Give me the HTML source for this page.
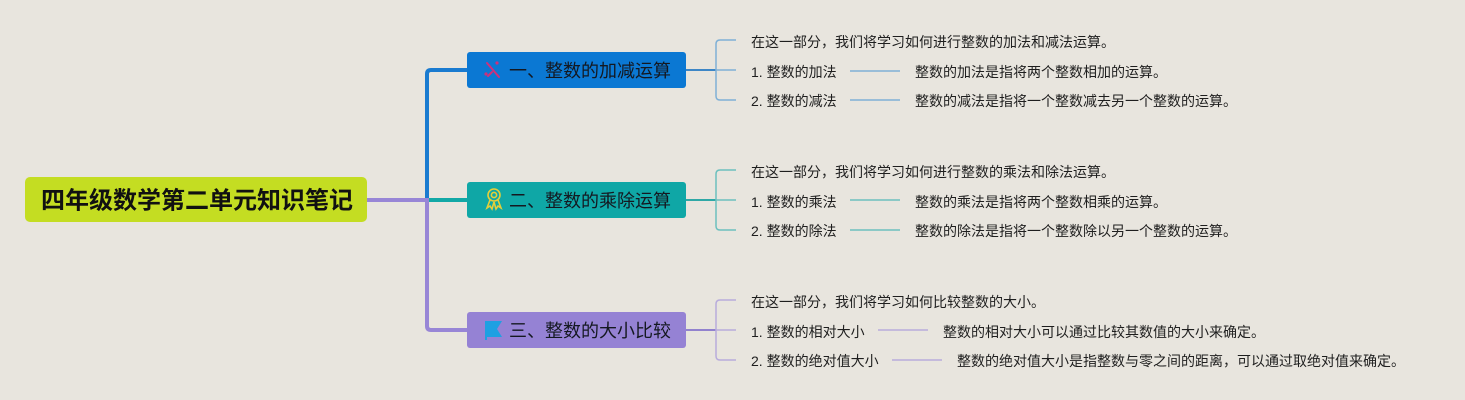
<!DOCTYPE html>
<html>
<head>
<meta charset="utf-8">
<style>
  html,body{margin:0;padding:0;background:#e8e5de;}
  svg{display:block;}
  text{font-family:"Liberation Sans","Noto Sans CJK SC",sans-serif;}
  .t{font-size:14px;fill:#1e1e1e;}
  .b{font-size:18px;fill:#141820;}
</style>
</head>
<body>
<svg width="1465" height="400" viewBox="0 0 1465 400" xmlns="http://www.w3.org/2000/svg">
  <rect x="0" y="0" width="1465" height="400" fill="#e8e5de"/>

  <!-- main connectors -->
  <path d="M427 200 V74 Q427 70 431 70 H470" fill="none" stroke="#1a7bd0" stroke-width="4"/>
  <path d="M427 200 H470" fill="none" stroke="#12a8a6" stroke-width="4"/>
  <path d="M365 200 H427 V326 Q427 330 431 330 H470" fill="none" stroke="#9886d6" stroke-width="4"/>

  <!-- root -->
  <rect x="25" y="177" width="342" height="45" rx="5" fill="#c4dd22"/>
  <text x="197" y="201" text-anchor="middle" dominant-baseline="central" font-size="24" font-weight="bold" fill="#111">四年级数学第二单元知识笔记</text>

  <!-- branch 1 -->
  <rect x="467" y="52" width="219" height="36" rx="3" fill="#0b78d3"/>
  <g stroke="#d0307a" stroke-width="2" stroke-linecap="round">
    <line x1="487" y1="63" x2="499" y2="77"/>
    <line x1="488" y1="76" x2="492" y2="72"/>
  </g>
  <circle cx="497" cy="63" r="1.6" fill="#d0307a"/>
  <circle cx="486" cy="74" r="1.6" fill="#d0307a"/>
  <text class="b" x="509" y="71" dominant-baseline="central">一、整数的加减运算</text>

  <path d="M686 70 H716" stroke="#3d86c6" stroke-width="2" fill="none"/>
  <path d="M736 40 H720 Q716 40 716 44 V96 Q716 100 720 100 H736 M716 70 H736" stroke="#7fb0d6" stroke-width="1.5" fill="none"/>
  <text class="t" x="751" y="42" dominant-baseline="central">在这一部分，我们将学习如何进行整数的加法和减法运算。</text>
  <text class="t" x="751" y="72" dominant-baseline="central">1. 整数的加法</text>
  <text class="t" x="751" y="101" dominant-baseline="central">2. 整数的减法</text>
  <path d="M850 71 H900 M850 100 H900" stroke="#7fb0d6" stroke-width="1.5" fill="none"/>
  <text class="t" x="915" y="72" dominant-baseline="central">整数的加法是指将两个整数相加的运算。</text>
  <text class="t" x="915" y="101" dominant-baseline="central">整数的减法是指将一个整数减去另一个整数的运算。</text>

  <!-- branch 2 -->
  <rect x="467" y="182" width="219" height="36" rx="3" fill="#0fa7a6"/>
  <g fill="none" stroke="#e5cf3a" stroke-width="1.6">
    <circle cx="494" cy="195" r="6"/>
    <circle cx="494" cy="195" r="2.6"/>
    <path d="M490 200 L487 208 L490 206 L492 209 L494 202"/>
    <path d="M498 200 L501 208 L498 206 L496 209 L494 202"/>
  </g>
  <text class="b" x="509" y="201" dominant-baseline="central">二、整数的乘除运算</text>

  <path d="M686 200 H716" stroke="#2fa8a6" stroke-width="2" fill="none"/>
  <path d="M736 170 H720 Q716 170 716 174 V226 Q716 230 720 230 H736 M716 200 H736" stroke="#6cc0be" stroke-width="1.5" fill="none"/>
  <text class="t" x="751" y="172" dominant-baseline="central">在这一部分，我们将学习如何进行整数的乘法和除法运算。</text>
  <text class="t" x="751" y="202" dominant-baseline="central">1. 整数的乘法</text>
  <text class="t" x="751" y="231" dominant-baseline="central">2. 整数的除法</text>
  <path d="M850 200 H900 M850 230 H900" stroke="#6cc0be" stroke-width="1.5" fill="none"/>
  <text class="t" x="915" y="202" dominant-baseline="central">整数的乘法是指将两个整数相乘的运算。</text>
  <text class="t" x="915" y="231" dominant-baseline="central">整数的除法是指将一个整数除以另一个整数的运算。</text>

  <!-- branch 3 -->
  <rect x="467" y="312" width="219" height="36" rx="3" fill="#9582d4"/>
  <path d="M485 321 H502 L497 329 L502 337 H487 V340 H485 Z" fill="#1ea0e2"/>
  <text class="b" x="509" y="331" dominant-baseline="central">三、整数的大小比较</text>

  <path d="M686 330 H716" stroke="#9282ce" stroke-width="2" fill="none"/>
  <path d="M736 300 H720 Q716 300 716 304 V356 Q716 360 720 360 H736 M716 330 H736" stroke="#b8acdc" stroke-width="1.5" fill="none"/>
  <text class="t" x="751" y="302" dominant-baseline="central">在这一部分，我们将学习如何比较整数的大小。</text>
  <text class="t" x="751" y="332" dominant-baseline="central">1. 整数的相对大小</text>
  <text class="t" x="751" y="361" dominant-baseline="central">2. 整数的绝对值大小</text>
  <path d="M878 330 H928 M892 360 H942" stroke="#b8acdc" stroke-width="1.5" fill="none"/>
  <text class="t" x="943" y="332" dominant-baseline="central">整数的相对大小可以通过比较其数值的大小来确定。</text>
  <text class="t" x="957" y="361" dominant-baseline="central">整数的绝对值大小是指整数与零之间的距离，可以通过取绝对值来确定。</text>
</svg>
</body>
</html>
